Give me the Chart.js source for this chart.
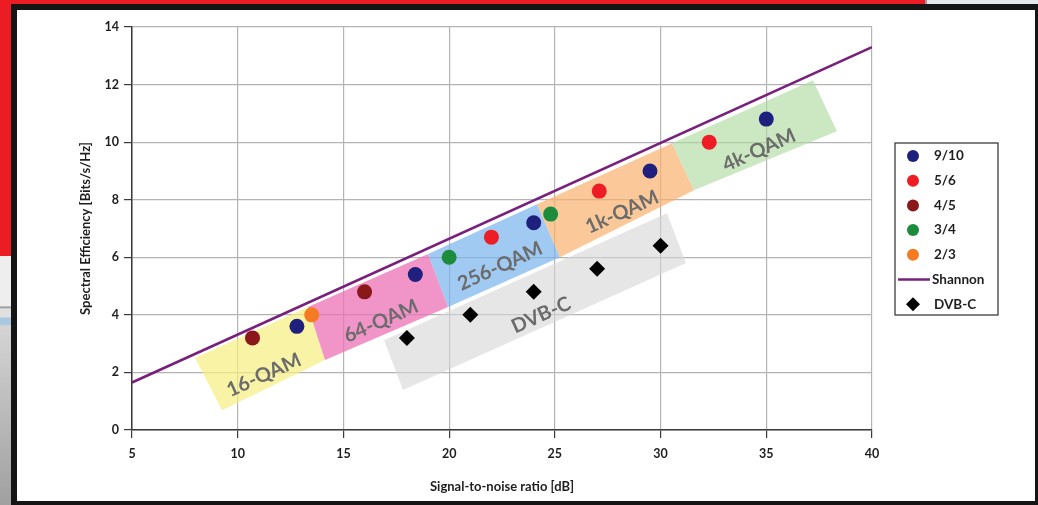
<!DOCTYPE html>
<html>
<head>
<meta charset="utf-8">
<script src="https://cdn.jsdelivr.net/npm/chart.js@4.4.1/dist/chart.umd.min.js"></script>
<style>
html,body{margin:0;padding:0;}
body{width:1038px;height:505px;position:relative;overflow:hidden;background:#e4e7eb;}
#deskTop{position:absolute;left:0;top:0;width:925px;height:12px;background:#ec1c24;}
#deskTopEnd{position:absolute;left:925px;top:0;width:2px;height:12px;background:#9a9a9a;}
#deskSide{position:absolute;left:0;top:0;width:14px;height:256px;background:#ec1c24;}
#deskLow{position:absolute;left:0;top:256px;width:14px;height:249px;
  background:linear-gradient(#eeeeee 0,#eeeeee 50px,#8a8a8a 51px,#e0e0e0 53px,#e0e0e0 61px,#a9c7de 62px,#a9c7de 68px,#d4d4d4 70px,#a0a0a0 100%);}
#frame{position:absolute;left:11px;top:4px;width:1018px;height:491px;
  border-left:6px solid #151515;border-top:6px solid #151515;border-right:3px solid #151515;border-bottom:4px solid #151515;background:#fff;}
#chart{position:absolute;left:0;top:0;}
</style>
</head>
<body>
<div id="deskTop"></div><div id="deskTopEnd"></div>
<div id="deskSide"></div><div id="deskLow"></div>
<div id="frame"></div>
<canvas id="chart" width="1038" height="505"></canvas>
<script>
// Spectral efficiency (bits/s/Hz) against SNR (dB) for each code rate
const snr910 = [12.8, 18.4, 24.0, 29.5, 35.0];
const eff910 = [3.6, 5.4, 7.2, 9.0, 10.8];
const snr56 = [22.0, 27.1, 32.3];
const eff56 = [6.7, 8.3, 10.0];
const snr45 = [10.7, 16.0];
const eff45 = [3.2, 4.8];
const snr34 = [20.0, 24.8];
const eff34 = [6.0, 7.5];
const snr23 = [13.5];
const eff23 = [4.0];

// Shannon limit, straight line across the axis range
const shannonSnr = [5, 40];
const shannonEff = [1.65, 13.3];

// DVB-C operating points
const dvbcSnr = [18.0, 21.0, 24.0, 27.0, 30.0];
const dvbcEff = [3.2, 4.0, 4.8, 5.6, 6.4];

// Axis ticks
const xTicks = [5, 10, 15, 20, 25, 30, 35, 40];
const yTicks = [0, 2, 4, 6, 8, 10, 12, 14];

// Modulation zones: corners in (SNR, efficiency) — top-left, top-right, bottom-right, bottom-left
const zoneNames = ['16-QAM', '64-QAM', '256-QAM', '1k-QAM', '4k-QAM', 'DVB-C'];
const zoneCorners = [
  [[7.98, 2.50], [13.32, 4.27], [14.13, 2.43], [9.26, 0.69]],
  [[13.32, 4.27], [19.00, 6.11], [19.95, 4.27], [14.13, 2.43]],
  [[19.00, 6.11], [24.16, 7.84], [25.24, 6.00], [19.95, 4.27]],
  [[24.16, 7.84], [30.54, 9.96], [31.58, 8.33], [25.24, 6.00]],
  [[30.54, 9.96], [37.21, 12.15], [38.34, 10.38], [31.58, 8.33]],
  [[16.92, 3.12], [30.30, 7.53], [31.20, 5.80], [17.82, 1.39]]
];
const zoneLabelAt = [[11.24, 1.91], [16.78, 3.78], [22.41, 5.69], [28.18, 7.57], [34.66, 9.72], [24.35, 3.99]];
const zoneFill = [
  'rgba(246,238,130,0.72)',
  'rgba(236,112,182,0.74)',
  'rgba(120,180,236,0.70)',
  'rgba(250,178,110,0.70)',
  'rgba(178,220,162,0.66)',
  'rgba(214,214,214,0.62)'
];

const pts = (xs, ys) => xs.map((x, i) => ({ x: x, y: ys[i] }));
const FONT = 'Lato, "Open Sans", "DejaVu Sans", sans-serif';

const zonesPlugin = {
  id: 'zones',
  beforeDatasetsDraw(chart) {
    const { ctx, scales: { x, y } } = chart;
    ctx.save();
    zoneCorners.forEach((poly, i) => {
      const p = poly.map(c => [x.getPixelForValue(c[0]), y.getPixelForValue(c[1])]);
      ctx.beginPath();
      ctx.moveTo(p[0][0], p[0][1]);
      for (let k = 1; k < p.length; k++) ctx.lineTo(p[k][0], p[k][1]);
      ctx.closePath();
      ctx.fillStyle = zoneFill[i];
      ctx.fill();
    });
    zoneCorners.forEach((poly, i) => {
      const ax = x.getPixelForValue(poly[0][0]), ay = y.getPixelForValue(poly[0][1]);
      const bx = x.getPixelForValue(poly[1][0]), by = y.getPixelForValue(poly[1][1]);
      const ang = Math.atan2(by - ay, bx - ax);
      const cx = x.getPixelForValue(zoneLabelAt[i][0]);
      const cy = y.getPixelForValue(zoneLabelAt[i][1]);
      ctx.save();
      ctx.translate(cx, cy);
      ctx.rotate(ang);
      ctx.font = 'bold 20px ' + FONT;
      ctx.fillStyle = '#6c6c6c';
      ctx.textAlign = 'center';
      ctx.textBaseline = 'middle';
      ctx.fillText(zoneNames[i], 0, 0);
      ctx.restore();
    });
    ctx.restore();
  }
};

function marker(ctx, style, r, cx, cy, color) {
  ctx.fillStyle = color;
  ctx.beginPath();
  if (style === 'rectRot') {
    ctx.moveTo(cx, cy - r); ctx.lineTo(cx + r, cy); ctx.lineTo(cx, cy + r); ctx.lineTo(cx - r, cy);
    ctx.closePath();
  } else {
    ctx.arc(cx, cy, r, 0, Math.PI * 2);
  }
  ctx.fill();
}

const legendPlugin = {
  id: 'boxLegend',
  afterDraw(chart, args, opts) {
    const { ctx } = chart;
    const area = chart.chartArea;
    const left = area.right + opts.gap, top = opts.top;
    ctx.save();
    ctx.strokeStyle = '#3c3c3c';
    ctx.lineWidth = 1.3;
    ctx.strokeRect(left, top, opts.width, opts.height);
    ctx.font = 'bold 13.5px ' + FONT;
    ctx.textBaseline = 'middle';
    ctx.fillStyle = '#1e1e1e';
    chart.data.datasets.forEach((ds, i) => {
      const cy = top + opts.first + i * opts.step;
      const mx = left + 18;
      if (ds.showLine) {
        ctx.strokeStyle = ds.borderColor;
        ctx.lineWidth = 2.5;
        ctx.beginPath();
        ctx.moveTo(left + 3, cy);
        ctx.lineTo(left + 35, cy);
        ctx.stroke();
      } else {
        marker(ctx, ds.pointStyle, ds.pointStyle === 'rectRot' ? 7 : 6, mx, cy, ds.backgroundColor);
      }
      ctx.fillStyle = '#1e1e1e';
      ctx.fillText(ds.label, left + (ds.showLine ? 37 : 39), cy);
    });
    ctx.restore();
  }
};

const circle = (label, xs, ys, color, order) => ({
  label: label, data: pts(xs, ys), backgroundColor: color, borderColor: color,
  pointStyle: 'circle', pointRadius: 7.5, pointHoverRadius: 7.5, borderWidth: 0, order: order
});

new Chart(document.getElementById('chart'), {
  type: 'scatter',
  data: {
    datasets: [
      circle('9/10', snr910, eff910, '#1f1f7e', 6),
      circle('5/6', snr56, eff56, '#ee1c25', 5),
      circle('4/5', snr45, eff45, '#8a1719', 4),
      circle('3/4', snr34, eff34, '#1b8c3b', 3),
      circle('2/3', snr23, eff23, '#f47b22', 2),
      {
        label: 'Shannon', data: pts(shannonSnr, shannonEff), showLine: true,
        borderColor: '#78207c', backgroundColor: '#78207c', borderWidth: 2.6,
        pointRadius: 0, pointHoverRadius: 0, order: 7
      },
      {
        label: 'DVB-C', data: pts(dvbcSnr, dvbcEff), backgroundColor: '#000000', borderColor: '#000000',
        pointStyle: 'rectRot', pointRadius: 8, pointHoverRadius: 8, borderWidth: 0, order: 1
      }
    ]
  },
  options: {
    responsive: false,
    animation: false,
    devicePixelRatio: 1,
    layout: { padding: { top: 27, right: 166, left: 0, bottom: 0 } },
    plugins: {
      legend: { display: false },
      tooltip: { enabled: false },
      boxLegend: { gap: 23, top: 143, width: 103, height: 172, first: 13, step: 24.7 }
    },
    scales: {
      x: {
        type: 'linear', min: 5, max: 40,
        afterFit: s => { s.height = 75; },
        afterBuildTicks: s => { s.ticks = xTicks.map(v => ({ value: v })); },
        ticks: { color: '#1e1e1e', font: { family: FONT, weight: 'bold', size: 12.5 }, padding: 8, maxRotation: 0 },
        grid: { color: '#b4b4b4', lineWidth: 1.2, tickColor: '#3a3a3a', tickLength: 8 },
        border: { color: '#3a3a3a', width: 1.5 },
        title: { display: true, text: 'Signal-to-noise ratio [dB]', color: '#1e1e1e',
          font: { family: FONT, weight: 'bold', size: 13 }, padding: { top: 0, bottom: 10 } }
      },
      y: {
        type: 'linear', min: 0, max: 14,
        afterFit: s => { s.width = 132; },
        afterBuildTicks: s => { s.ticks = yTicks.map(v => ({ value: v })); },
        ticks: { color: '#1e1e1e', font: { family: FONT, weight: 'bold', size: 12.5 }, padding: 5 },
        grid: { color: '#b4b4b4', lineWidth: 1.2, tickColor: '#3a3a3a', tickLength: 8 },
        border: { color: '#3a3a3a', width: 1.5 },
        title: { display: true, text: 'Spectral Efficiency [Bits/s/Hz]', color: '#1e1e1e',
          font: { family: FONT, weight: 'bold', size: 13 }, padding: { top: 78, bottom: 0 } }
      }
    }
  },
  plugins: [zonesPlugin, legendPlugin]
});
</script>
</body>
</html>
